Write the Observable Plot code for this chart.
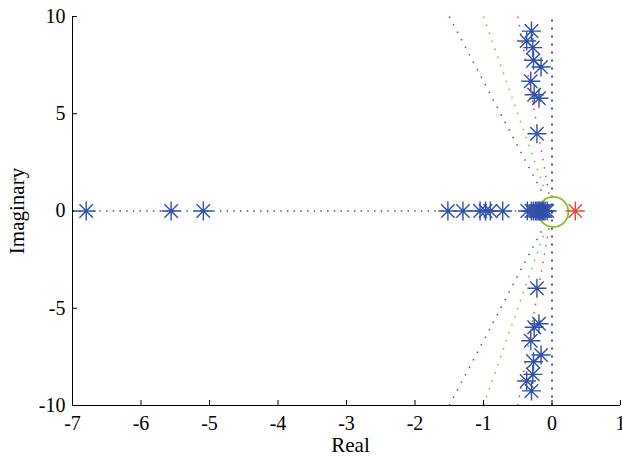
<!DOCTYPE html>
<html><head><meta charset="utf-8">
<script src="https://cdn.jsdelivr.net/npm/d3@7"></script>
<script src="https://cdn.jsdelivr.net/npm/@observablehq/plot@0.6"></script>
<style>
body{margin:0;background:#fff}
svg text{font-family:'Liberation Serif','Times New Roman',serif !important}
</style>
</head><body><div id="chart"></div>
<script>
// Poles on the real axis
const realAxisPoles = [-6.8, -5.56, -5.09, -1.52, -1.3, -1.05, -0.97, -0.9, -0.72,
  -0.36, -0.3, -0.27, -0.24, -0.22, -0.2, -0.18, -0.16, -0.14, -0.12, -0.1, -0.07];
// Complex pole pairs (upper half; conjugates mirrored)
const complexRe = [-0.30, -0.37, -0.28, -0.27, -0.16, -0.31, -0.26, -0.19, -0.22];
const complexIm = [9.25, 8.74, 8.4, 7.75, 7.4, 6.67, 5.98, 5.8, 3.97];
// Unstable pole
const unstableRe = [0.34];
const unstableIm = [0];
// Damping rays: x where they cross |Im| = 10, and |Im| where they stop
const rayTopX = [-1.5, -1.0, -0.5];
const rayEndIm = [0.8, 1.1, 0.85];
// Circle around origin
const circleCenter = [0.02, -0.05];
const xTicks = [-7, -6, -5, -4, -3, -2, -1, 0, 1];
const yTicks = [-10, -5, 0, 5, 10];

const W = 622, H = 458, mL = 72, mR = 2, mT = 16, mB = 53;
const plotW = W - mL - mR, plotH = H - mT - mB;

const poles = [
  ...realAxisPoles.map(re => ({re, im: 0})),
  ...complexRe.flatMap((re, i) => [{re, im: complexIm[i]}, {re, im: -complexIm[i]}])
];
const unstable = unstableRe.map((re, i) => ({re, im: unstableIm[i]}));
const rayColors = ["#3b5bb0", "#7fc31c", "#e8443a"];
const rays = rayTopX.flatMap((tx, i) => [
  [{x: tx, y: 10, k: i}, {x: tx * rayEndIm[i] / 10, y: rayEndIm[i], k: i}],
  [{x: tx, y: -10, k: i}, {x: tx * rayEndIm[i] / 10, y: -rayEndIm[i], k: i}]
]);

const star8 = {
  draw(ctx, size) {
    const r = Math.sqrt(size / Math.PI), d = r * Math.SQRT1_2;
    ctx.moveTo(-r, 0); ctx.lineTo(r, 0);
    ctx.moveTo(0, -r); ctx.lineTo(0, r);
    ctx.moveTo(-d, -d); ctx.lineTo(d, d);
    ctx.moveTo(-d, d); ctx.lineTo(d, -d);
  }
};

const font = "'Liberation Serif', 'Times New Roman', serif";
const chart = Plot.plot({
  width: W, height: H,
  marginLeft: mL, marginRight: mR, marginTop: mT, marginBottom: mB,
  style: {fontFamily: font, fontSize: "19px", color: "#000", background: "#fff", overflow: "visible"},
  x: {domain: [-7, 1], axis: null},
  y: {domain: [-10, 10], axis: null},
  marks: [
    // black dotted zero lines
    Plot.line([{x: -7, y: 0}, {x: 0, y: 0}], {x: "x", y: "y", stroke: "#555", strokeWidth: 1.3, strokeDasharray: "1.5,5.2", strokeLinecap: "butt"}),
    Plot.line([{x: 0, y: -10}, {x: 0, y: 10}], {x: "x", y: "y", stroke: "#555", strokeWidth: 2, strokeDasharray: "2,6", strokeLinecap: "butt"}),
    // green circle
    Plot.dot([circleCenter], {x: d => d[0], y: d => d[1], r: 15, stroke: "#7fc31c", strokeWidth: 1.7, fill: "none"}),
    // poles
    Plot.dot(poles, {x: "re", y: "im", symbol: star8, r: 9.5, stroke: "#3050aa", strokeWidth: 1.4, fill: "none"}),
    Plot.dot(unstable, {x: "re", y: "im", symbol: star8, r: 9.5, stroke: "#e8443a", strokeWidth: 1.4, fill: "none"}),
    // damping rays
    ...rays.map(seg => Plot.line(seg, {x: "x", y: "y", stroke: rayColors[seg[0].k], strokeWidth: 1.5, strokeDasharray: "1.5,7", strokeLinecap: "butt"})),
    // axis lines
    Plot.ruleX([-7], {stroke: "#000", strokeWidth: 1}),
    Plot.ruleY([-10], {stroke: "#000", strokeWidth: 1}),
    // inward ticks
    Plot.tickX(xTicks, {x: d => d, insetTop: plotH - 5, stroke: "#000"}),
    Plot.tickY(yTicks, {y: d => d, insetRight: plotW - 5, stroke: "#000"}),
    // tick labels
    Plot.axisX(xTicks, {tickSize: 0, tickPadding: 10, fontSize: 20, fontFamily: font, tickFormat: d => String(d), label: null}),
    Plot.axisY(yTicks, {tickSize: 0, tickPadding: 7, fontSize: 20, fontFamily: font, tickFormat: d => String(d), label: null}),
    // axis titles
    Plot.text(["Real"], {frameAnchor: "bottom", dy: 46, dx: 4, fontSize: 21, fontFamily: font, text: d => d}),
    Plot.text(["Imaginary"], {frameAnchor: "left", textAnchor: "middle", dx: -55, rotate: -90, fontSize: 21, fontFamily: font, text: d => d})
  ]
});
document.getElementById("chart").appendChild(chart);
</script>
</body></html>
